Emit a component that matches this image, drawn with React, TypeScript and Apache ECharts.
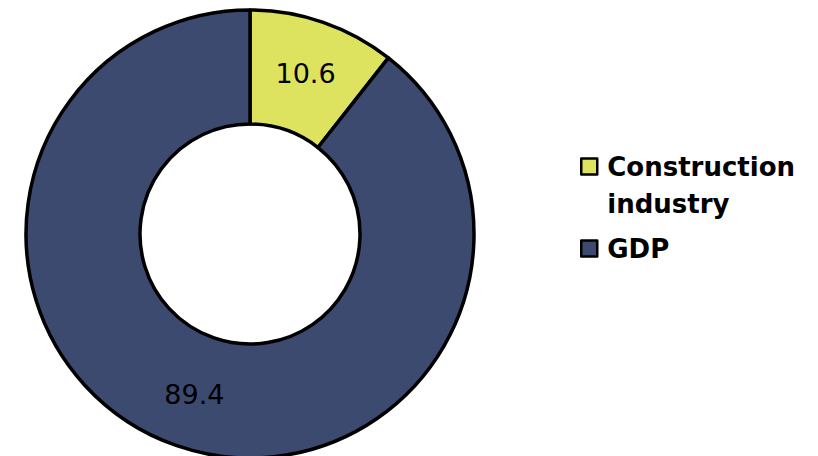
import React, { useEffect, useRef } from "react";
import * as echarts from "echarts";

const categories = ["Construction industry", "GDP"];
const legendLabels = ["\nConstruction\nindustry", "GDP"];
const values = [10.6, 89.4];
const colors = ["#DDE35F", "#3C4A6F"];

export default function App() {
  const ref = useRef<HTMLDivElement>(null);
  useEffect(() => {
    if (!ref.current) return;
    const chart = echarts.init(ref.current, null, { renderer: "svg" });
    chart.setOption({
      animation: false,
      backgroundColor: "#ffffff",
      legend: {
        orient: "vertical",
        left: 580,
        top: 111,
        padding: 0,
        itemWidth: 16,
        itemHeight: 16,
        itemGap: 8,
        icon: "rect",
        itemStyle: { borderColor: "#000000", borderWidth: 2.5 },
        data: categories,
        formatter: (name: string) => legendLabels[categories.indexOf(name)],
        textStyle: {
          fontFamily: "DejaVu Sans",
          fontWeight: "bold",
          fontSize: 26,
          lineHeight: 37,
          color: "#000000",
          padding: [0, 0, 0, 5],
        },
      },
      series: [
        {
          type: "pie",
          center: [250, 234],
          radius: [110, 224],
          startAngle: 90,
          clockwise: true,
          silent: true,
          itemStyle: { borderColor: "#000000", borderWidth: 3.5 },
          label: {
            show: true,
            position: "inside",
            fontFamily: "DejaVu Sans",
            fontSize: 27,
            color: "#000000",
            formatter: (p: any) => String(p.value),
          },
          labelLine: { show: false },
          data: categories.map((c, i) => ({
            name: c,
            value: values[i],
            itemStyle: { color: colors[i] },
          })),
        },
      ],
    });
    return () => chart.dispose();
  }, []);
  return (
    <div
      ref={ref}
      style={{ position: "fixed", left: 0, top: 0, width: 818, height: 456 }}
    />
  );
}
